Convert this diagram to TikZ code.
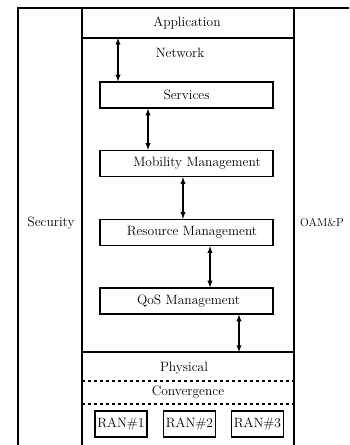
\documentclass[tikz,border=0pt]{standalone}
\usepackage{tikz}

\tikzset{
  layer/.style = {draw, line width=1.2pt, minimum width=173pt, minimum height=26pt, inner sep=0pt},
  ran/.style = {draw, line width=1.2pt, minimum width=52pt, minimum height=26pt, inner sep=0pt},
  link/.style = {<->, >=latex, line width=1.3pt, shorten <=0pt, shorten >=0pt}
}

\begin{document}
\begin{tikzpicture}[x=1pt, y=-1pt, font=\fontsize{13.5}{15}\selectfont]
\useasboundingbox (0,0) rectangle (349,445);
\clip (0,0) rectangle (349,445);
%\draw[help lines] (0,0) grid (349,445);
\draw[line width=1.2pt] (18,8) rectangle (380,470);
\draw[line width=1.2pt] (82,8) -- (82,470);
\draw[line width=1.2pt] (294,8) -- (294,470);
\coordinate (appl) at (82,38);
\coordinate (appr) at (294,38);
\coordinate (phyl) at (82,352);
\coordinate (phyr) at (294,352);
\draw[line width=1.2pt] (appl) -- (appr);
\draw[line width=1.2pt] (phyl) -- (phyr);
\draw[line width=1.2pt, dash pattern=on 3pt off 3pt] (82,381) -- (294,381);
\draw[line width=1.2pt, dash pattern=on 3pt off 3pt] (82,404) -- (294,404);

\node (app) at (187,23) {Application};
\node (net) at (180,53) {Network};
\node (svc) [layer] at (186.5,95) {Services};
\node (mob) [layer] at (186.5,163.5) {\hspace{21pt}Mobility Management};
\node (res) [layer] at (186.5,232.5) {\hspace{11pt}Resource Management};
\node (qos) [layer] at (186.5,301) {\hspace{4pt}QoS Management};
\node (phy) at (184,368) {Physical};
\node (conv) at (188,392) {Convergence};
\node (ran1) [ran] at (121,424) {RAN\#1};
\node (ran2) [ran] at (189.5,424) {RAN\#2};
\node (ran3) [ran] at (257.5,424) {RAN\#3};
\node (sec) at (51,223) {Security};
\node (oam) [anchor=west, inner sep=0pt, font=\fontsize{11.5}{13}\selectfont] at (300,223) {OAM\&P};

\coordinate (a1) at (118,38);
\coordinate (a5) at (239,352);
\draw[link] (a1) -- (a1 |- svc.north);
\draw[link] (svc.south -| 148,0) -- (mob.north -| 148,0);
\draw[link] (mob.south -| 183,0) -- (res.north -| 183,0);
\draw[link] (res.south -| 210,0) -- (qos.north -| 210,0);
\draw[link] (qos.south -| a5) -- (a5);
\end{tikzpicture}
\end{document}
